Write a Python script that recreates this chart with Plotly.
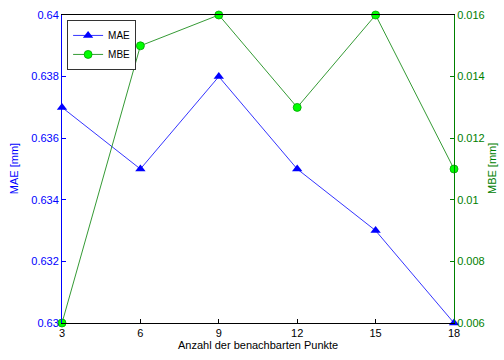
import plotly.graph_objects as go

x_vals = [3, 6, 9, 12, 15, 18]
mae = [0.637, 0.635, 0.638, 0.635, 0.633, 0.630]
mbe = [0.006, 0.015, 0.016, 0.013, 0.016, 0.011]
left_ticks = [0.630, 0.632, 0.634, 0.636, 0.638, 0.640]
left_labels = ["0.63", "0.632", "0.634", "0.636", "0.638", "0.64"]
right_ticks = [0.006, 0.008, 0.010, 0.012, 0.014, 0.016]
right_labels = ["0.006", "0.008", "0.01", "0.012", "0.014", "0.016"]

BLUE = "#0000ff"
GREEN = "#008000"
font = "Liberation Sans, Arial, sans-serif"

fig = go.Figure()
fig.add_trace(go.Scatter(
    x=x_vals, y=mae, name="MAE", mode="lines+markers",
    line=dict(color=BLUE, width=0.8),
    marker=dict(symbol="triangle-up", size=9, color=BLUE),
    cliponaxis=False, yaxis="y"))
fig.add_trace(go.Scatter(
    x=x_vals, y=mbe, name="MBE", mode="lines+markers",
    line=dict(color=GREEN, width=0.8),
    marker=dict(symbol="circle", size=8, color="#00ff00", line=dict(color="#00a000", width=0.8)),
    cliponaxis=False, yaxis="y2"))

fig.update_layout(
    width=504, height=360,
    margin=dict(l=62, r=50, t=15, b=37, autoexpand=False),
    paper_bgcolor="white", plot_bgcolor="white",
    font=dict(family=font, size=11, color="black"),
    showlegend=True,
    legend=dict(x=0.013, y=0.984, xanchor="left", yanchor="top",
                bordercolor="#333333", borderwidth=1, bgcolor="white",
                font=dict(size=10), tracegroupgap=0, itemwidth=30),
    xaxis=dict(range=[3, 18], tickvals=x_vals, ticktext=[str(v) for v in x_vals],
               showgrid=False, zeroline=False, showline=True, linecolor="black",
               linewidth=1, mirror=True, ticks="inside", ticklen=4, tickcolor="black",
               tickfont=dict(size=11, color="black"), automargin=False),
    yaxis=dict(range=[0.630, 0.640], tickvals=left_ticks, ticktext=left_labels,
               showgrid=False, zeroline=False, showline=True, linecolor=BLUE,
               linewidth=1, ticks="inside", ticklen=4, tickcolor=BLUE,
               tickfont=dict(size=11, color=BLUE), automargin=False),
    yaxis2=dict(range=[0.006, 0.016], tickvals=right_ticks, ticktext=right_labels,
                overlaying="y", side="right", anchor="x",
                showgrid=False, zeroline=False, showline=True, linecolor=GREEN,
                linewidth=1, ticks="inside", ticklen=4, tickcolor=GREEN,
                tickfont=dict(size=11, color=GREEN), automargin=False),
    annotations=[
        dict(text="Anzahl der benachbarten Punkte", xref="paper", yref="paper",
             x=0.5, y=-0.045, xanchor="center", yanchor="top", showarrow=False,
             font=dict(size=11, color="black")),
        dict(text="MAE [mm]", xref="paper", yref="paper", x=-0.122, y=0.5,
             xanchor="center", yanchor="middle", textangle=-90, showarrow=False,
             font=dict(size=11, color=BLUE)),
        dict(text="MBE [mm]", xref="paper", yref="paper", x=1.097, y=0.5,
             xanchor="center", yanchor="middle", textangle=-90, showarrow=False,
             font=dict(size=11, color=GREEN)),
    ],
)

fig.write_html("out.html", config={"displayModeBar": False},
               post_script="document.body.style.margin='0px';")
